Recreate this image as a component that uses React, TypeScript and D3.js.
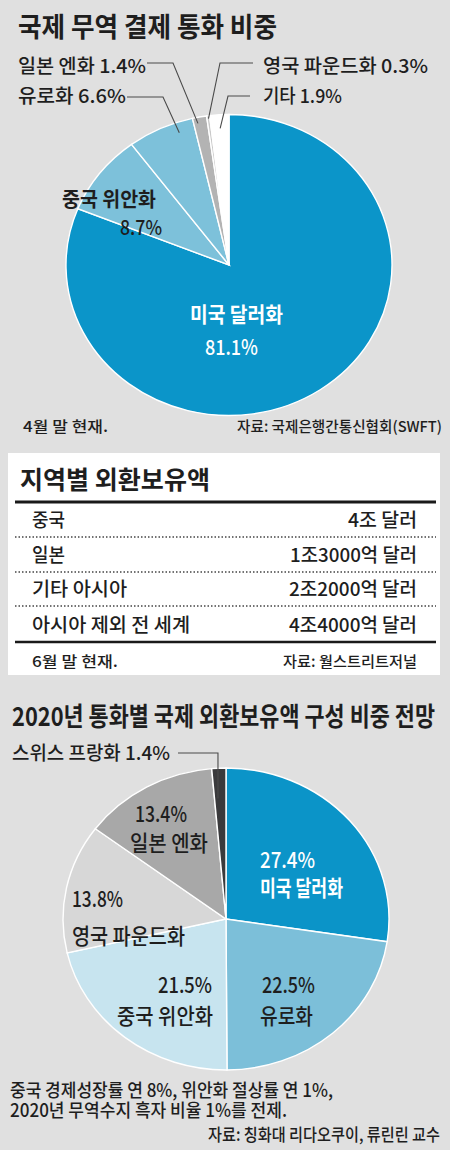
import React from 'react';
import * as d3 from 'd3';

// ---------- DATA ----------
const tradeCurrencies = ['미국 달러화', '중국 위안화', '유로화', '일본 엔화', '영국 파운드화', '기타'];
const tradeShares = [81.1, 8.7, 6.6, 1.4, 0.3, 1.9];
const tradeColors = ['#0b95c9', '#7dc1da', '#7dc1da', '#b3b3b3', '#c9c9c9', '#ffffff'];

const reserveRegions = ['중국', '일본', '기타 아시아', '아시아 제외 전 세계'];
const reserveAmounts = ['4조 달러', '1조3000억 달러', '2조2000억 달러', '4조4000억 달러'];

const forecastCurrencies = ['미국 달러화', '유로화', '중국 위안화', '영국 파운드화', '일본 엔화', '스위스 프랑화'];
const forecastShares = [27.4, 22.5, 21.5, 13.8, 13.4, 1.4];
const forecastColors = ['#0b94c8', '#7cbfd9', '#c7e4ef', '#d7d7d7', '#a8a8a8', '#3a3a3c'];

// ---------- LAYOUT ----------
const FONT = "'Noto Sans CJK KR', 'Noto Sans', sans-serif";
const BG = '#e0e0e0';
const INK = '#1e1e1e';

const geom1 = { cx: 229, cy: 265, R: 150.5, rx: 163 };
const geom2 = { cx: 226, cy: 919, R: 151, rx: 163 };

const pie = d3.pie<number>().sort(null).value((d) => d);
const tradeArcs = pie(tradeShares);
const forecastArcs = pie(forecastShares);

type Geom = { cx: number; cy: number; R: number; rx: number };

function pt(a: d3.PieArcDatum<number>, f: number, k: number, g: Geom): [number, number] {
  const ang = a.startAngle + f * (a.endAngle - a.startAngle);
  return [g.cx + g.rx * k * Math.sin(ang), g.cy - g.R * k * Math.cos(ang)];
}

function PieShape({ arcs, colors, g }: { arcs: d3.PieArcDatum<number>[]; colors: string[]; g: Geom }) {
  const arc = d3.arc<d3.PieArcDatum<number>>().innerRadius(0).outerRadius(g.R);
  return (
    <g transform={`translate(${g.cx},${g.cy}) scale(${g.rx / g.R},1)`}>
      {arcs.map((a, i) => (
        <path
          key={i}
          d={arc(a) || ''}
          fill={colors[i]}
          stroke="#ffffff"
          strokeWidth={1.4}
          vectorEffect="non-scaling-stroke"
        />
      ))}
    </g>
  );
}

function T({
  x, y, w, size, weight = 500, fill = INK, children,
}: { x: number; y: number; w?: number; size: number; weight?: number; fill?: string; children: React.ReactNode }) {
  return (
    <text
      x={x}
      y={y}
      fontSize={size}
      fontWeight={weight}
      fill={fill}
      fontFamily={FONT}
      textLength={w}
      lengthAdjust={w ? 'spacingAndGlyphs' : undefined}
    >
      {children}
    </text>
  );
}

function Leader({ points }: { points: [number, number][] }) {
  return (
    <polyline
      points={points.map((p) => p.join(',')).join(' ')}
      fill="none"
      stroke="#4a4a4a"
      strokeWidth={1.1}
    />
  );
}

export default function App() {
  // leader anchor points on the slices
  const jpyEnd = pt(tradeArcs[3], 0.3, 0.96, geom1);
  const eurEnd = pt(tradeArcs[2], 0.74, 0.93, geom1);
  const gbpEnd = pt(tradeArcs[4], 0.5, 0.98, geom1);
  const othEnd = pt(tradeArcs[5], 0.5, 0.91, geom1);
  const chfEnd = pt(forecastArcs[5], 0.3, 0.8, geom2);

  const rowBaselines = [527, 562, 596, 632];
  const rowRight = [
    { x: 348, w: 69 },
    { x: 290, w: 127 },
    { x: 289, w: 128 },
    { x: 289, w: 128 },
  ];
  const rowLeftW = [33, 33, 95, 158];

  return (
    <svg
      width={450}
      height={1150}
      style={{ position: 'absolute', left: 0, top: 0, display: 'block' }}
    >
      <rect x={0} y={0} width={450} height={1150} fill={BG} />

      {/* ===== Chart 1 ===== */}
      <T x={18} y={37} w={259} size={27} weight={700}>국제 무역 결제 통화 비중</T>

      <PieShape arcs={tradeArcs} colors={tradeColors} g={geom1} />

      <Leader points={[[147, 63], [173, 63], jpyEnd]} />
      <Leader points={[[127, 97], [163, 97], eurEnd]} />
      <Leader points={[[253, 63], [220, 63], gbpEnd]} />
      <Leader points={[[250, 96], [228, 96], othEnd]} />

      <T x={18} y={73} w={128} size={19}>{`${tradeCurrencies[3]} ${tradeShares[3]}%`}</T>
      <T x={18} y={103} w={108} size={19}>{`${tradeCurrencies[2]} ${tradeShares[2]}%`}</T>
      <T x={263} y={73} w={165} size={19}>{`${tradeCurrencies[4]}  ${tradeShares[4]}%`}</T>
      <T x={263} y={103} w={79} size={19}>{`${tradeCurrencies[5]} ${tradeShares[5]}%`}</T>

      <T x={62} y={207} w={94} size={20} weight={700}>{tradeCurrencies[1]}</T>
      <T x={120} y={235} w={42} size={20}>{`${tradeShares[1]}%`}</T>

      <T x={190} y={322} w={93} size={21} weight={700} fill="#ffffff">{tradeCurrencies[0]}</T>
      <T x={205} y={355} w={53} size={21} weight={500} fill="#ffffff">{`${tradeShares[0]}%`}</T>

      <T x={23} y={432} w={85} size={15}>4월 말 현재.</T>
      <T x={237} y={432} w={205} size={15}>자료: 국제은행간통신협회(SWFT)</T>

      {/* ===== Table ===== */}
      <rect x={8} y={453} width={432} height={222} fill="#ffffff" />
      <T x={20} y={489} w={190} size={25} weight={700}>지역별 외환보유액</T>
      <line x1={15} x2={436} y1={502} y2={502} stroke="#1a1a1a" strokeWidth={3} />
      {[537, 572, 606].map((y) => (
        <line key={y} x1={15} x2={436} y1={y} y2={y} stroke="#444" strokeWidth={1.5} strokeDasharray="1.5,2" />
      ))}
      <line x1={15} x2={436} y1={642} y2={642} stroke="#1a1a1a" strokeWidth={2.5} />
      {reserveRegions.map((r, i) => (
        <T key={r} x={32} y={rowBaselines[i]} w={rowLeftW[i]} size={19}>{r}</T>
      ))}
      {reserveAmounts.map((v, i) => (
        <T key={v} x={rowRight[i].x} y={rowBaselines[i]} w={rowRight[i].w} size={19}>{v}</T>
      ))}
      <T x={32} y={667} w={86} size={15}>6월 말 현재.</T>
      <T x={283} y={667} w={134} size={15}>자료: 월스트리트저널</T>

      {/* ===== Chart 3 ===== */}
      <T x={12} y={726} w={423} size={26} weight={700}>2020년 통화별 국제 외환보유액 구성 비중 전망</T>

      <PieShape arcs={forecastArcs} colors={forecastColors} g={geom2} />
      <Leader points={[[178, 753], [chfEnd[0], 753], chfEnd]} />
      <T x={12} y={760} w={158} size={19}>{`${forecastCurrencies[5]} ${forecastShares[5]}%`}</T>

      <T x={135} y={822} w={52} size={22}>{`${forecastShares[4]}%`}</T>
      <T x={130} y={851} w={78} size={22}>{forecastCurrencies[4]}</T>

      <T x={260} y={868} w={55} size={22} weight={500} fill="#ffffff">{`${forecastShares[0]}%`}</T>
      <T x={260} y={896} w={83} size={22} weight={700} fill="#ffffff">{forecastCurrencies[0]}</T>

      <T x={72} y={907} w={51} size={22}>{`${forecastShares[3]}%`}</T>
      <T x={72} y={944} w={113} size={22}>{forecastCurrencies[3]}</T>

      <T x={158} y={993} w={54} size={22}>{`${forecastShares[2]}%`}</T>
      <T x={117} y={1024} w={96} size={22}>{forecastCurrencies[2]}</T>

      <T x={262} y={993} w={53} size={22}>{`${forecastShares[1]}%`}</T>
      <T x={260} y={1024} w={53} size={22}>{forecastCurrencies[1]}</T>

      <T x={10} y={1097} w={323} size={18}>중국 경제성장률 연 8%, 위안화 절상률 연 1%,</T>
      <T x={10} y={1117} w={277} size={18}>2020년 무역수지 흑자 비율 1%를 전제.</T>
      <T x={208} y={1141} w={232} size={17}>자료: 칭화대 리다오쿠이, 류린린 교수</T>
    </svg>
  );
}
